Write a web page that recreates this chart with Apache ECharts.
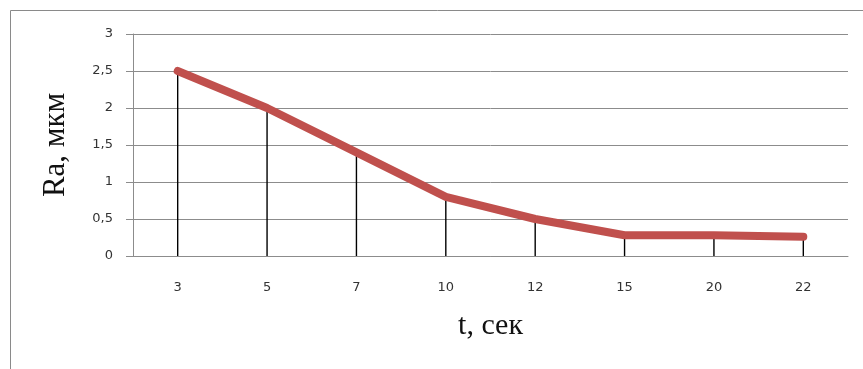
<!DOCTYPE html>
<html>
<head>
<meta charset="utf-8">
<script src="https://cdn.jsdelivr.net/npm/echarts@6/dist/echarts.min.js"></script>
<style>html,body{margin:0;padding:0;background:#fff}#c{width:863px;height:369px}</style>
</head>
<body>
<div id="c"></div>
<script>
var categories = ['3', '5', '7', '10', '12', '15', '20', '22'];
var raValues = [2.5, 2.0, 1.4, 0.8, 0.5, 0.28, 0.28, 0.26];
var yTicks = [0, 0.5, 1, 1.5, 2, 2.5, 3];

var chart = echarts.init(document.getElementById('c'));
chart.setOption({
  animation: false,
  backgroundColor: '#fff',
  graphic: [{
    type: 'rect', shape: {x: 10.5, y: 10.5, width: 900, height: 420},
    style: {fill: 'none', stroke: '#8a8a8a', lineWidth: 1}, silent: true
  }],
  grid: {left: 133, right: 15, top: 34, bottom: 113},
  xAxis: {
    type: 'category', data: categories, boundaryGap: true,
    axisLine: {lineStyle: {color: '#8c8c8c', width: 1}},
    axisTick: {show: false},
    axisLabel: {color: '#333', fontFamily: 'DejaVu Sans', fontSize: 13, margin: 25},
    name: 't, сек', nameLocation: 'middle', nameGap: 55,
    nameTextStyle: {fontFamily: 'Liberation Serif', fontSize: 30, color: '#111'}
  },
  yAxis: {
    type: 'value', min: 0, max: 3, interval: 0.5,
    axisLine: {show: true, lineStyle: {color: '#8c8c8c', width: 1}},
    axisTick: {show: true, length: 7, lineStyle: {color: '#8c8c8c'}},
    splitLine: {lineStyle: {color: '#8c8c8c', width: 1}},
    axisLabel: {
      color: '#333', fontFamily: 'DejaVu Sans', fontSize: 13, margin: 20,
      formatter: function (v) { return String(v).replace('.', ','); }
    },
    name: 'Ra, мкм', nameLocation: 'middle', nameGap: 62, nameRotate: 90,
    nameTextStyle: {fontFamily: 'Liberation Serif', fontSize: 31, color: '#111'}
  },
  series: [{
    type: 'bar', data: raValues, barWidth: 1.4,
    itemStyle: {color: '#000'}, silent: true
  }, {
    type: 'line', data: raValues, showSymbol: false, symbol: 'none',
    lineStyle: {color: '#c0504d', width: 8, cap: 'round', join: 'round'},
    z: 5
  }]
});
</script>
</body>
</html>
